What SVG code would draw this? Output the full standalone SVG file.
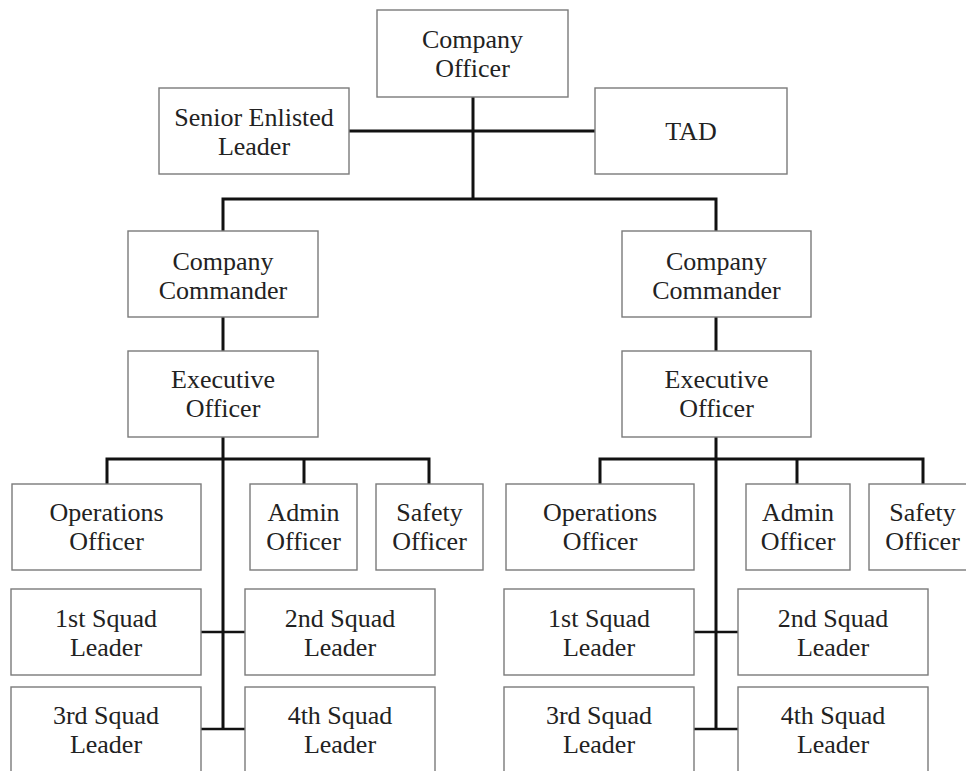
<svg xmlns="http://www.w3.org/2000/svg" width="966" height="771" viewBox="0 0 966 771">
<style>
.box{fill:#fff;stroke:#7a7a7a;stroke-width:1.4}
.t{font-family:"Liberation Serif","Times New Roman",serif;font-size:26px;fill:#222;text-anchor:middle}
.ln{stroke:#111;stroke-width:3;fill:none}
.thin{stroke:#111;stroke-width:2.4;fill:none}
</style>
<rect width="966" height="771" fill="#fff"/>
<g id="connectors">
<line class="ln" x1="349" y1="131" x2="595" y2="131"/>
<line class="ln" x1="473" y1="97" x2="473" y2="200"/>
<polyline class="ln" points="223,231 223,199 716,199 716,231"/>
<line class="ln" x1="223" y1="317" x2="223" y2="351"/>
<line class="ln" x1="716" y1="317" x2="716" y2="351"/>
<line class="ln" x1="223" y1="437" x2="223" y2="730"/>
<line class="ln" x1="716" y1="437" x2="716" y2="730"/>
<polyline class="ln" points="107,484 107,459 429,459 429,484"/>
<line class="ln" x1="304" y1="459" x2="304" y2="484"/>
<polyline class="ln" points="600,484 600,459 923,459 923,484"/>
<line class="ln" x1="797" y1="459" x2="797" y2="484"/>
<line class="thin" x1="201" y1="632" x2="245" y2="632"/>
<line class="thin" x1="201" y1="729" x2="245" y2="729"/>
<line class="thin" x1="694" y1="632" x2="738" y2="632"/>
<line class="thin" x1="694" y1="729" x2="738" y2="729"/>
</g>
<g id="company-officer"><rect class="box" x="377" y="10" width="191" height="87"/><text class="t" x="472.5" y="48">Company</text><text class="t" x="472.5" y="77">Officer</text></g>
<g id="senior-enlisted"><rect class="box" x="159" y="88" width="190" height="86"/><text class="t" x="254" y="126">Senior Enlisted</text><text class="t" x="254" y="155">Leader</text></g>
<g id="tad"><rect class="box" x="595" y="88" width="192" height="86"/><text class="t" x="691" y="140">TAD</text></g>

<g id="cc-left"><rect class="box" x="128" y="231" width="190" height="86"/><text class="t" x="223" y="270">Company</text><text class="t" x="223" y="299">Commander</text></g>
<g id="xo-left"><rect class="box" x="128" y="351" width="190" height="86"/><text class="t" x="223" y="388">Executive</text><text class="t" x="223" y="417">Officer</text></g>
<g id="ops-left"><rect class="box" x="12" y="484" width="189" height="86"/><text class="t" x="106.5" y="521">Operations</text><text class="t" x="106.5" y="550">Officer</text></g>
<g id="admin-left"><rect class="box" x="250" y="484" width="107" height="86"/><text class="t" x="303.5" y="521">Admin</text><text class="t" x="303.5" y="550">Officer</text></g>
<g id="safety-left"><rect class="box" x="376" y="484" width="107" height="86"/><text class="t" x="429.5" y="521">Safety</text><text class="t" x="429.5" y="550">Officer</text></g>
<g id="sq1-left"><rect class="box" x="11" y="589" width="190" height="86"/><text class="t" x="106" y="627">1st Squad</text><text class="t" x="106" y="656">Leader</text></g>
<g id="sq2-left"><rect class="box" x="245" y="589" width="190" height="86"/><text class="t" x="340" y="627">2nd Squad</text><text class="t" x="340" y="656">Leader</text></g>
<g id="sq3-left"><rect class="box" x="11" y="687" width="190" height="100"/><text class="t" x="106" y="724">3rd Squad</text><text class="t" x="106" y="753">Leader</text></g>
<g id="sq4-left"><rect class="box" x="245" y="687" width="190" height="100"/><text class="t" x="340" y="724">4th Squad</text><text class="t" x="340" y="753">Leader</text></g>

<g id="cc-right"><rect class="box" x="622" y="231" width="189" height="86"/><text class="t" x="716.5" y="270">Company</text><text class="t" x="716.5" y="299">Commander</text></g>
<g id="xo-right"><rect class="box" x="622" y="351" width="189" height="86"/><text class="t" x="716.5" y="388">Executive</text><text class="t" x="716.5" y="417">Officer</text></g>
<g id="ops-right"><rect class="box" x="506" y="484" width="188" height="86"/><text class="t" x="600" y="521">Operations</text><text class="t" x="600" y="550">Officer</text></g>
<g id="admin-right"><rect class="box" x="746" y="484" width="104" height="86"/><text class="t" x="798" y="521">Admin</text><text class="t" x="798" y="550">Officer</text></g>
<g id="safety-right"><rect class="box" x="869" y="484" width="107" height="86"/><text class="t" x="922.5" y="521">Safety</text><text class="t" x="922.5" y="550">Officer</text></g>
<g id="sq1-right"><rect class="box" x="504" y="589" width="190" height="86"/><text class="t" x="599" y="627">1st Squad</text><text class="t" x="599" y="656">Leader</text></g>
<g id="sq2-right"><rect class="box" x="738" y="589" width="190" height="86"/><text class="t" x="833" y="627">2nd Squad</text><text class="t" x="833" y="656">Leader</text></g>
<g id="sq3-right"><rect class="box" x="504" y="687" width="190" height="100"/><text class="t" x="599" y="724">3rd Squad</text><text class="t" x="599" y="753">Leader</text></g>
<g id="sq4-right"><rect class="box" x="738" y="687" width="190" height="100"/><text class="t" x="833" y="724">4th Squad</text><text class="t" x="833" y="753">Leader</text></g>
</svg>
